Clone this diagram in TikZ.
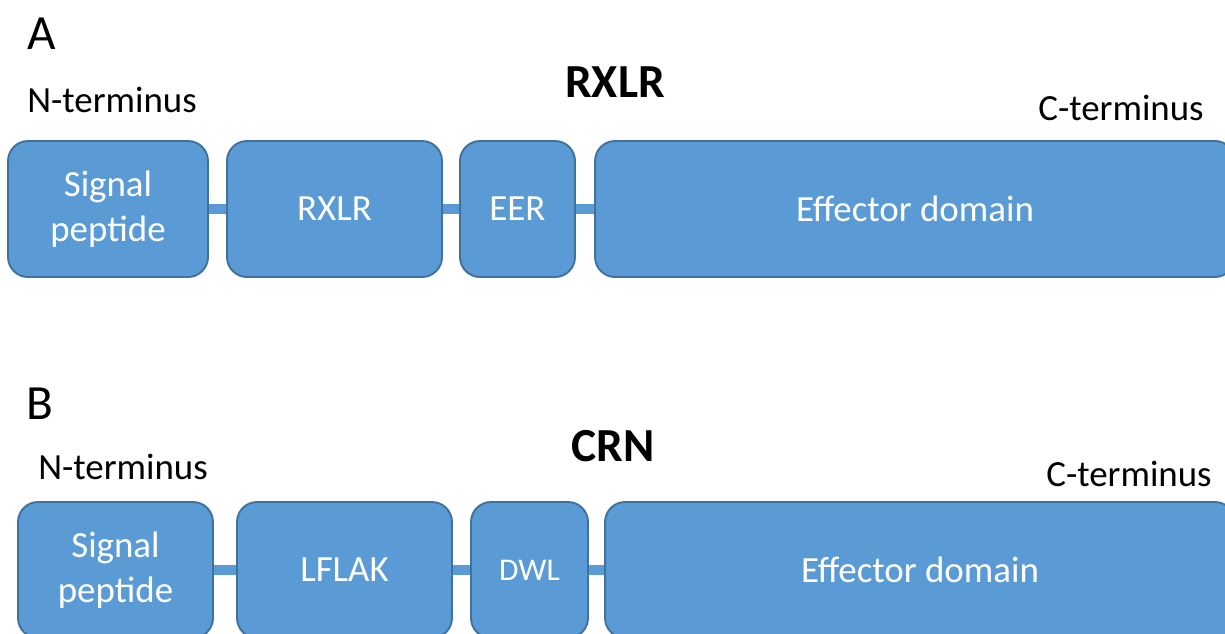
\documentclass[tikz,border=0pt]{standalone}
\usepackage{fontspec}
\setmainfont{Carlito}
\usepackage{tikz}
\usetikzlibrary{calc}
\usetikzlibrary{positioning}
\definecolor{domfill}{HTML}{5B9BD5}
\definecolor{domline}{HTML}{41719C}

\begin{document}
\begin{tikzpicture}[
        x=0.02cm,
        y=-0.02cm,
        domain box/.style={draw=domline,fill=domfill,line width=1.1pt,
            rounded corners=0.4cm,minimum height=2.72cm,inner sep=0pt,
            text=white,align=center,font=\fontsize{21}{25.5}\selectfont},
        linker/.style={domfill,line width=0.2cm},
        term label/.style={font=\fontsize{21}{25}\selectfont},
        family label/.style={font=\fontsize{27}{32}\selectfont\bfseries},
        panel label/.style={font=\fontsize{28}{33}\selectfont}
    ]
        \useasboundingbox (0,0) rectangle (1225,633);
        \clip (0,0) rectangle (1225,633);

        % Panel A: the RXLR effector.
        \node[panel label] (labA) at (42,34) {A};
        \node[family label] (famA) at (615,82) {RXLR};
        \node[term label] (nA) at (112,100) {N-terminus};
        \node[term label] (cA) at (1121,108) {C-terminus};

        \node[domain box,minimum width=4cm] (sigA) at (108,209) {Signal\\peptide};
        \node[domain box,minimum width=4.3cm] (rxlr) at (334.5,209) {RXLR};
        \node[domain box,minimum width=2.3cm] (eer) at (517.5,209) {EER};
        \node[domain box,minimum width=12.8cm] (effA) at (915,209) {Effector domain};

        \draw[linker] (sigA) -- (rxlr);
        \draw[linker] (rxlr) -- (eer);
        \draw[linker] (eer) -- (effA);

        % Panel B: the CRN effector.
        \node[panel label] (labB) at (40,404) {B};
        \node[family label] (famB) at (613,446) {CRN};
        \node[term label] (nB) at (123,467) {N-terminus};
        \node[term label] (cB) at (1129,474) {C-terminus};

        \node[domain box,minimum width=3.9cm] (sigB) at (115.5,570) {Signal\\peptide};
        \node[domain box,minimum width=4.3cm] (lflak) at (344.5,570) {LFLAK};
        \node[domain box,minimum width=2.34cm,
            font=\fontsize{18}{22}\selectfont] (dwl) at (529.5,570) {DWL};
        \node[domain box,minimum width=12.6cm] (effB) at (920,570) {Effector domain};

        \draw[linker] (sigB) -- (lflak);
        \draw[linker] (lflak) -- (dwl);
        \draw[linker] (dwl) -- (effB);
    \end{tikzpicture}
\end{document}
